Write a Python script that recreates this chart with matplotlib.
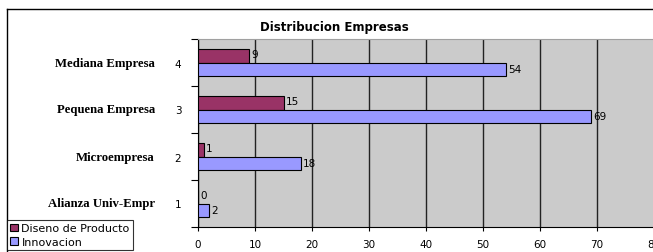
import numpy as np
import matplotlib.pyplot as plt
from matplotlib.lines import Line2D
from matplotlib.transforms import blended_transform_factory

categories = ['Alianza Univ-Empr', 'Microempresa', 'Pequena Empresa', 'Mediana Empresa']
positions = [1, 2, 3, 4]
diseno = [0, 1, 15, 9]
innovacion = [2, 18, 69, 54]
series_names = ['Diseno de Producto', 'Innovacion']
xticks = [0, 10, 20, 30, 40, 50, 60, 70, 80]

W, H = 653, 253
fig = plt.figure(figsize=(W / 100, H / 100), dpi=100)
fig.patch.set_facecolor('white')

ax = fig.add_axes([198 / W, (H - 228) / H, 456 / W, 188 / H])
ax.set_facecolor('#cbcbcb')

y = np.array(positions, dtype=float)
bh = 0.28
b1 = ax.barh(y + bh / 2, diseno, height=bh, color='#993366', edgecolor='black', linewidth=0.8, zorder=3)
b2 = ax.barh(y - bh / 2, innovacion, height=bh, color='#9999ff', edgecolor='black', linewidth=0.8, zorder=3)

for yy, v in zip(y + bh / 2, diseno):
    ax.text(v + 0.4, yy + 0.04, str(v), fontsize=7.5, va='center', ha='left', zorder=4)
for yy, v in zip(y - bh / 2, innovacion):
    ax.text(v + 0.4, yy, str(v), fontsize=7.5, va='center', ha='left', zorder=4)

ax.set_xlim(0, 80)
ax.set_ylim(0.5, 4.5)
ax.set_xticks(xticks)
ax.set_xticklabels([str(t) for t in xticks], fontsize=7.5)
ax.xaxis.grid(True, color='#222222', linewidth=1, zorder=1)
ax.set_axisbelow(True)
ax.tick_params(axis='x', length=3, pad=6)

ax.set_yticks(positions)
ax.set_yticklabels([str(p) for p in positions], fontsize=7.5)
ax.set_yticks([0.5, 1.5, 2.5, 3.5, 4.5], minor=True)
ax.tick_params(axis='y', which='major', length=0, pad=12)
ax.tick_params(axis='y', which='minor', length=5, width=0.8)

ax.spines['right'].set_visible(False)
ax.spines['top'].set_color('#a0a0a0')
ax.spines['left'].set_color('black')
ax.spines['bottom'].set_color('black')

trans = blended_transform_factory(fig.transFigure, ax.transData)
for p, name in zip(positions, categories):
    ax.text(155 / W, p, name, transform=trans, ha='right', va='center',
            fontsize=9.2, fontweight='bold', family='Liberation Serif')

fig.text(334 / W, 1 - 27 / H, 'Distribucion Empresas', ha='center', va='center',
         fontsize=8.5, fontweight='bold')

fig.add_artist(Line2D([7 / W, 1], [1 - 10 / H, 1 - 10 / H], color='black', linewidth=1))
fig.add_artist(Line2D([7 / W, 7 / W], [0, 1 - 10 / H], color='black', linewidth=1))

leg = fig.legend([b1, b2], series_names, loc='upper left', bbox_to_anchor=(7 / W, 1 - 221 / H),
                 fontsize=8, frameon=True, fancybox=False, edgecolor='black', borderpad=0.3,
                 handlelength=0.7, handleheight=0.7, handletextpad=0.3, labelspacing=0.3,
                 borderaxespad=0)
leg.get_frame().set_linewidth(0.8)

fig.savefig('out.png', dpi=100)
